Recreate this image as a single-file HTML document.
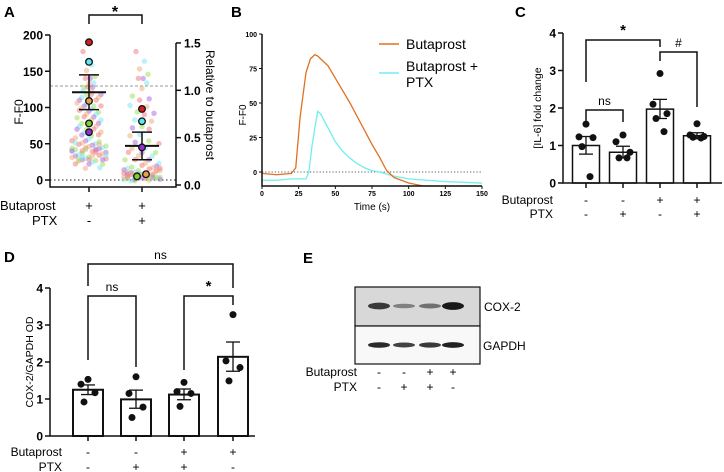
<!DOCTYPE html>
<html><head><meta charset="utf-8"><style>
body{margin:0;background:#fff}
svg{display:block;font-family:"Liberation Sans",Arial,sans-serif}
</style></head><body>
<svg id="fig" width="724" height="472" viewBox="0 0 724 472" xmlns="http://www.w3.org/2000/svg">
<g id="pA"></g>
<g id="pB"></g>
<g id="pC"></g>
<g id="pD"></g>
<g id="pE"></g>
</svg>
<script>
// ---------- Panel A data ----------
const aGroup1 = [175,160,150,145,140,138,135,132,130,128,126,124,122,120,118,116,115,113,112,110,108,106,105,104,102,100,99,98,96,95,94,92,90,88,87,85,84,82,80,78,76,75,73,72,70,68,66,65,63,62,60,58,57,55,54,52,51,50,49,48,47,46,45,44,43,42,41,40,39,38,37,36,35,34,33,32,31,30,29,28,27,26,25,24,22,20,18,15,46,42,38,35,32,30,28,26,52,48,44,40,36,33];
const aGroup2 = [175,165,152,148,140,138,135,125,118,112,108,104,100,96,92,88,84,80,76,72,68,64,60,56,52,48,45,42,40,38,36,34,32,30,28,26,24,22,20,19,18,17,16,15,14,13,12,12,11,10,10,9,9,8,8,7,7,6,6,5,5,5,4,4,3,3,2,2,1,1,0,0,12,10,8,6,4,3,2,1,14,9,7,5,3,2];
const aMeans1 = [190,163,109,78,66];
const aMeans2 = [98,81,8,5,45];
const aMeanColors = ["#d42020","#5fe8f0","#e8a050","#7ad030","#9030d0"];
const aSummary1 = [121,145,97];
const aSummary2 = [47,66,28];
const aLeftTicks = [0,50,100,150,200];
const aRightTicks = ["0.0","0.5","1.0","1.5"];
// ---------- Panel B data ----------
const bTimes = [0,10,20,23,26,30,33,36,38,40,45,50,55,60,65,70,75,80,85,90,100,110,125,150];
const bButaprost = [-1,-2,-1,3,40,72,82,85,84,82,77,68,59,50,40,30,20,11,1,-4,-8,-11,-12,-12];
const bPtxTimes = [0,10,20,30,32,34,36,38,40,42,45,50,55,60,65,70,75,80,90,100,125,150];
const bPtx = [-6,-6,-5,-5,0,18,32,44,42,38,32,22,15,10,6,3,1,0,-3,-5,-7,-8];
const bXTicks = [0,25,50,75,100,125,150];
const bYTicks = [0,25,50,75,100];
// ---------- Panel C data ----------
const cMeans = [1.0,0.82,1.97,1.26];
const cSemHi = [1.24,0.98,2.23,1.34];
const cSemLo = [0.77,0.67,1.72,1.18];
const cPoints = [[1.57,1.23,1.21,0.97,0.17],[1.28,1.1,0.82,0.67,0.67],[2.92,2.1,1.85,1.72,1.37],[1.58,1.28,1.24,1.22,1.2]];
const cButaprost = ["-","-","+","+"];
const cPtx = ["-","+","-","+"];
const cTicks = [0,1,2,3,4];
// ---------- Panel D data ----------
const dMeans = [1.25,0.99,1.12,2.14];
const dSemHi = [1.38,1.24,1.27,2.54];
const dSemLo = [1.12,0.75,0.98,1.75];
const dPoints = [[1.53,1.40,1.17,0.92],[1.6,1.15,0.78,0.5],[1.45,1.2,1.15,0.8],[3.28,2.03,1.85,1.49]];
const dButaprost = ["-","-","+","+"];
const dPtx = ["-","+","+","-"];
const dTicks = [0,1,2,3,4];
// ---------- Panel E data ----------
const eButaprost = ["-","-","+","+"];
const ePtx = ["-","+","+","-"];
const eCox = [0.75,0.3,0.4,0.95];
const eGapdh = [0.85,0.7,0.75,0.9];

const NS="http://www.w3.org/2000/svg";
function mk(parent,tag,attrs,text){const e=document.createElementNS(NS,tag);for(const k in attrs)e.setAttribute(k,attrs[k]);if(text!==undefined)e.textContent=text;parent.appendChild(e);return e;}

// ================= Panel A =================
(function(){
const g=document.getElementById('pA');
const yL=v=>180-v*0.725;
const yR=v=>185-v*94.7;
const x1=89,x2=142;
let t=mk(g,'text',{x:4,y:17,'font-size':15,'font-weight':'bold'},'A');

let b=mk(g,'path',{d:`M${x1},24V15H${x2}V24`,fill:'none',stroke:'#111','stroke-width':1.5});

t=mk(g,'text',{x:115,y:17,'font-size':16,'font-weight':'bold','text-anchor':'middle'},'*');

let l=mk(g,'line',{x1:50,x2:176,y1:86,y2:86,stroke:'#999','stroke-dasharray':'3,2'});

l=mk(g,'line',{x1:50,x2:176,y1:yL(0),y2:yL(0),stroke:'#222','stroke-dasharray':'1.5,2.5'});

const cols=["#f08080","#80e8f0","#f0b080","#a0e060","#b070e0"];
function swarm(vals,cx){
  vals.forEach((v,i)=>{
    const w=v<20?3.6:(v<60?3.4:(v<120?2.4:1.2));
    const off=(((i*7)%11)-5)*w;
    const c=mk(g,'circle',{cx:cx+off,cy:yL(v)+((i*3)%5-2)*0.8,r:2.7,fill:cols[i%5],'fill-opacity':0.55});
    
  });
}
swarm(aGroup1,x1);swarm(aGroup2,x2);
l=mk(g,'path',{d:`M50,${yL(200)}V187H176V${yR(1.5)}`,fill:'none',stroke:'#111','stroke-width':1.5});

aLeftTicks.forEach(v=>{
  mk(g,'line',{x1:45,x2:50,y1:yL(v),y2:yL(v),stroke:'#111','stroke-width':1.5});
  const tt=mk(g,'text',{x:43,y:yL(v)+4.5,'font-size':12,'font-weight':'bold','text-anchor':'end'},String(v));
  
});
aRightTicks.forEach(s=>{
  const v=parseFloat(s);
  mk(g,'line',{x1:176,x2:181,y1:yR(v),y2:yR(v),stroke:'#111','stroke-width':1.5});
  const tt=mk(g,'text',{x:184,y:yR(v)+4.5,'font-size':12,'font-weight':'bold'},s);
  
});
[x1,x2].forEach(x=>mk(g,'line',{x1:x,x2:x,y1:187,y2:192,stroke:'#111','stroke-width':1.5}));
t=mk(g,'text',{transform:'translate(23,112) rotate(-90)','font-size':12,'text-anchor':'middle'},'F-F0');

t=mk(g,'text',{transform:'translate(206,105) rotate(90)','font-size':12,'text-anchor':'middle'},'Relative  to butaprost');

[[aSummary1,x1],[aSummary2,x2]].forEach(([s,x])=>{
  mk(g,'line',{x1:x-17,x2:x+17,y1:yL(s[0]),y2:yL(s[0]),stroke:'#111','stroke-width':2});
  mk(g,'line',{x1:x,x2:x,y1:yL(s[1]),y2:yL(s[2]),stroke:'#111','stroke-width':1.5});
  mk(g,'line',{x1:x-10,x2:x+10,y1:yL(s[1]),y2:yL(s[1]),stroke:'#111','stroke-width':1.5});
  mk(g,'line',{x1:x-10,x2:x+10,y1:yL(s[2]),y2:yL(s[2]),stroke:'#111','stroke-width':1.5});
});
aMeans1.forEach((v,i)=>{const c=mk(g,'circle',{cx:x1,cy:yL(v),r:3.3,fill:aMeanColors[i],stroke:'#111','stroke-width':1.3});});
aMeans2.forEach((v,i)=>{const c=mk(g,'circle',{cx:x2+(i==2?4:i==3?-5:0),cy:yL(v),r:3.3,fill:aMeanColors[i],stroke:'#111','stroke-width':1.3});});
t=mk(g,'text',{x:0,y:210,'font-size':13},'Butaprost');
t=mk(g,'text',{x:32,y:225,'font-size':13},'PTX');
[["+","-",x1],["+","+",x2]].forEach(([a,p,x])=>{
  mk(g,'text',{x:x,y:210,'font-size':13,'text-anchor':'middle'},a);
  mk(g,'text',{x:x,y:225,'font-size':13,'text-anchor':'middle'},p);
});
})();

// ================= Panel B =================
(function(){
const g=document.getElementById('pB');
const X=v=>262+v*1.4667, Y=v=>172-v*1.38;
let t=mk(g,'text',{x:231,y:17,'font-size':15,'font-weight':'bold'},'B');
let l=mk(g,'line',{x1:262,x2:482,y1:Y(0),y2:Y(0),stroke:'#222','stroke-dasharray':'1.2,2','stroke-width':0.8});
let p=mk(g,'polyline',{points:bPtxTimes.map((tv,i)=>X(tv)+','+Y(bPtx[i])).join(' '),fill:'none',stroke:'#70eef0','stroke-width':1.3});

p=mk(g,'polyline',{points:bTimes.map((tv,i)=>X(tv)+','+Math.min(Y(bButaprost[i]),186)).join(' '),fill:'none',stroke:'#e07020','stroke-width':1.3});

l=mk(g,'path',{d:`M262,${Y(100)}V186H482`,fill:'none',stroke:'#111','stroke-width':1.5});
bYTicks.forEach(v=>{mk(g,'line',{x1:259,x2:262,y1:Y(v),y2:Y(v),stroke:'#111'});const tt=mk(g,'text',{x:257,y:Y(v)+3,'font-size':7,'font-weight':'bold','text-anchor':'end'},String(v));});
bXTicks.forEach(v=>{mk(g,'line',{x1:X(v),x2:X(v),y1:186,y2:189,stroke:'#111'});const tt=mk(g,'text',{x:X(v),y:196,'font-size':7,'font-weight':'bold','text-anchor':'middle'},String(v));});
t=mk(g,'text',{x:372,y:210,'font-size':10,'text-anchor':'middle'},'Time (s)');
t=mk(g,'text',{transform:'translate(246,115) rotate(-90)','font-size':10,'text-anchor':'middle'},'F-F0');
mk(g,'line',{x1:379,x2:399,y1:44,y2:44,stroke:'#e07020','stroke-width':1.5});
t=mk(g,'text',{x:406,y:49,'font-size':14},'Butaprost');
mk(g,'line',{x1:379,x2:399,y1:73,y2:73,stroke:'#70eef0','stroke-width':1.5});
t=mk(g,'text',{x:406,y:71,'font-size':14},'Butaprost +');
mk(g,'text',{x:406,y:87,'font-size':14},'PTX');
})();

function barPanel(g,cfg){
  const Y=v=>cfg.y0-v*cfg.k;
  cfg.means.forEach((m,i)=>{
    const x=cfg.xs[i];
    const r=mk(g,'rect',{x:x-cfg.bw/2,y:Y(m),width:cfg.bw,height:cfg.y0-Y(m),fill:'#fff',stroke:'#111','stroke-width':cfg.sw});
    
    mk(g,'line',{x1:x,x2:x,y1:Y(cfg.hi[i]),y2:Y(cfg.lo[i]),stroke:'#111','stroke-width':1.3});
    mk(g,'line',{x1:x-7,x2:x+7,y1:Y(cfg.hi[i]),y2:Y(cfg.hi[i]),stroke:'#111','stroke-width':1.3});
    mk(g,'line',{x1:x-7,x2:x+7,y1:Y(cfg.lo[i]),y2:Y(cfg.lo[i]),stroke:'#111','stroke-width':1.3});
    cfg.pts[i].forEach((v,j)=>{
      const off=[0,-7,7,-4,4][j%5]*(cfg.spread||1);
      const c=mk(g,'circle',{cx:x+off,cy:Y(v),r:3.5,fill:'#111'});
      
    });
    mk(g,'line',{x1:x,x2:x,y1:cfg.y0,y2:cfg.y0+5,stroke:'#111','stroke-width':1.5});
    mk(g,'text',{x:x,y:cfg.r1,'font-size':12,'text-anchor':'middle'},cfg.buta[i]);
    mk(g,'text',{x:x,y:cfg.r2,'font-size':12,'text-anchor':'middle'},cfg.ptx[i]);
  });
  const ax=mk(g,'path',{d:`M${cfg.ax},${Y(4)}V${cfg.y0}H${cfg.xend}`,fill:'none',stroke:'#111','stroke-width':1.5});
  
  cfg.ticks.forEach(v=>{
    mk(g,'line',{x1:cfg.ax-5,x2:cfg.ax,y1:Y(v),y2:Y(v),stroke:'#111','stroke-width':1.5});
    const tt=mk(g,'text',{x:cfg.ax-7,y:Y(v)+4.5,'font-size':12,'font-weight':'bold','text-anchor':'end'},String(v));
    
  });
  let t=mk(g,'text',{x:cfg.labx,y:cfg.r1,'font-size':12,'text-anchor':'end'},'Butaprost');
  t=mk(g,'text',{x:cfg.labx,y:cfg.r2,'font-size':12,'text-anchor':'end'},'PTX');
  t=mk(g,'text',{transform:`translate(${cfg.ytx},${cfg.yty}) rotate(-90)`,'font-size':10.5,'text-anchor':'middle'},cfg.ytitle);
  cfg.brackets.forEach(b=>{
    const p=mk(g,'path',{d:`M${b[0]},${b[3]}V${b[2]}H${b[1]}V${b[4]}`,fill:'none',stroke:'#111','stroke-width':1.5});
    
    const tt=mk(g,'text',{x:(b[0]+b[1])/2,y:b[2]-5,'font-size':b[5]=='*'?15:12,'font-weight':b[5]=='*'?'bold':'normal','text-anchor':'middle'},b[5]);
    
  });
}

(function(){
const g=document.getElementById('pC');
let t=mk(g,'text',{x:515,y:17,'font-size':15,'font-weight':'bold'},'C');
barPanel(g,{means:cMeans,hi:cSemHi,lo:cSemLo,pts:cPoints,buta:cButaprost,ptx:cPtx,ticks:cTicks,
  xs:[586,623,660,697],bw:27,sw:1.5,y0:183,k:37.5,ax:563,xend:722,r1:204,r2:218,labx:553,
  ytx:541,yty:108,ytitle:'[IL-6] fold change',spread:1,
  brackets:[[586,660,40,82,47,'*'],[660,697,52,61,107,'#'],[586,623,110,122,122,'ns']]});
})();

(function(){
const g=document.getElementById('pD');
let t=mk(g,'text',{x:4,y:262,'font-size':15,'font-weight':'bold'},'D');
barPanel(g,{means:dMeans,hi:dSemHi,lo:dSemLo,pts:dPoints,buta:dButaprost,ptx:dPtx,ticks:dTicks,
  xs:[88,136,184,233],bw:30,sw:2,y0:436,k:37,ax:50,xend:255,r1:456,r2:471,labx:62,
  ytx:33,yty:362,ytitle:'COX-2/GAPDH OD',spread:1,
  brackets:[[88,233,264,286,288,'ns'],[88,136,296,360,367,'ns'],[184,233,296,370,305,'*']]});
})();

(function(){
const g=document.getElementById('pE');
let t=mk(g,'text',{x:303,y:263,'font-size':15,'font-weight':'bold'},'E');
let r=mk(g,'rect',{x:355,y:287,width:125,height:39,fill:'#d8d8d8',stroke:'#111','stroke-width':1.2});
r=mk(g,'rect',{x:355,y:326,width:125,height:38,fill:'#f8f8f8',stroke:'#111','stroke-width':1.2});
const xs=[379,404,430,453];
xs.forEach((x,i)=>{
  const b1=mk(g,'ellipse',{cx:x,cy:306,rx:11,ry:1.5+eCox[i]*2.5,fill:'#111','fill-opacity':0.2+eCox[i]*0.8});
  
  const b2=mk(g,'ellipse',{cx:x,cy:345,rx:11,ry:1.5+eGapdh[i]*1.5,fill:'#111','fill-opacity':0.3+eGapdh[i]*0.7});
  
  mk(g,'text',{x:x,y:376,'font-size':12,'text-anchor':'middle'},eButaprost[i]);
  mk(g,'text',{x:x,y:391,'font-size':12,'text-anchor':'middle'},ePtx[i]);
});
t=mk(g,'text',{x:484,y:311,'font-size':12},'COX-2');
t=mk(g,'text',{x:483,y:350,'font-size':12},'GAPDH');
t=mk(g,'text',{x:357,y:376,'font-size':12,'text-anchor':'end'},'Butaprost');
t=mk(g,'text',{x:357,y:391,'font-size':12,'text-anchor':'end'},'PTX');
})();
</script>
</body></html>
